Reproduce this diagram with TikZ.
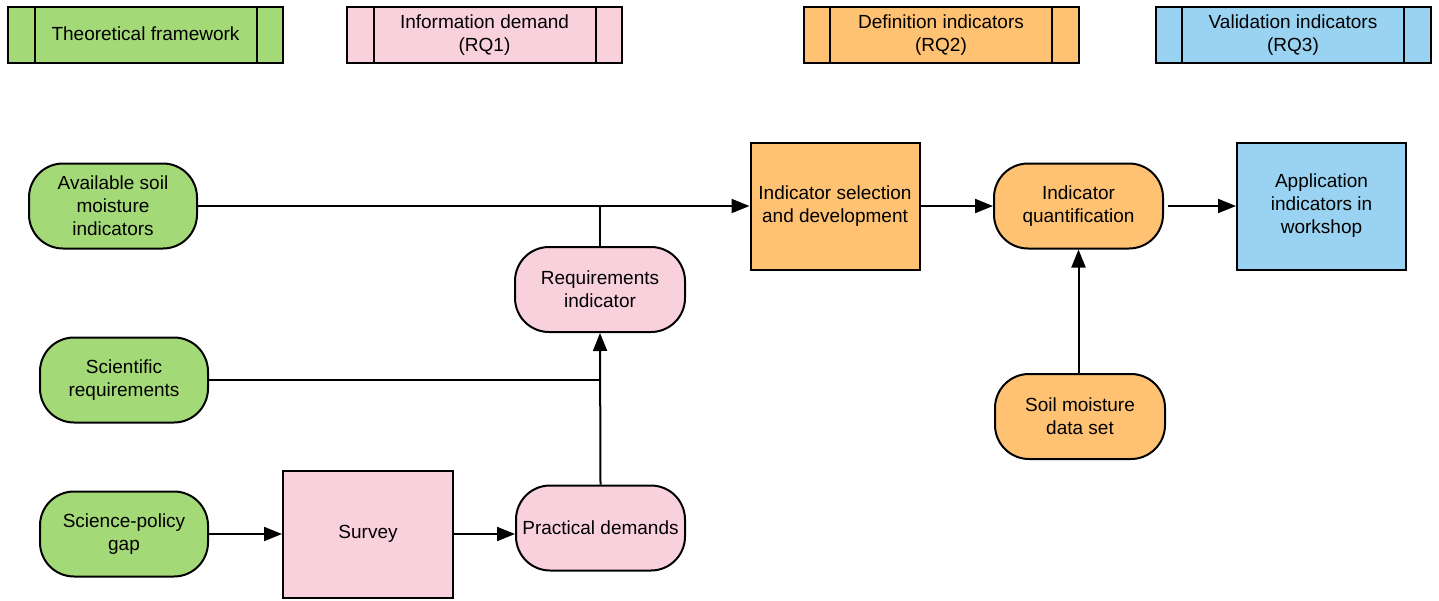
\documentclass[tikz,border=0pt]{standalone}
\usepackage{fontspec}
\setmainfont{Liberation Sans}
\usetikzlibrary{arrows.meta}
\definecolor{cgreen}{RGB}{164,217,119}
\definecolor{cpink}{RGB}{249,209,221}
\definecolor{corange}{RGB}{254,194,114}
\definecolor{cblue}{RGB}{154,211,242}
\begin{document}
\begin{tikzpicture}[x=0.5pt,y=-0.5pt,
  every node/.style={font=\fontsize{9.5}{11.5}\selectfont, align=center, inner sep=2pt},
  base/.style={draw=black, line width=1pt},
  header/.style={base, minimum width=137.5pt, minimum height=28pt},
  pill/.style={base, rounded corners=17pt, minimum width=84pt, minimum height=42.5pt},
  box/.style={base, minimum width=84.5pt, minimum height=63.5pt},
  conn/.style={line width=1pt},
  arr/.style={conn, -{Triangle[length=9pt,width=7pt]}}
]
\useasboundingbox (0,0) rectangle (1439,600);

% headers
\node[header, fill=cgreen] (h1) at (145.5,35) {\raisebox{1pt}{Theoretical framework}};
\node[header, fill=cpink] (h2) at (484.5,35) {Information demand\\(RQ1)};
\node[header, fill=corange] (h3) at (941,35) {Definition indicators\\(RQ2)};
\node[header, fill=cblue] (h4) at (1293,35) {Validation indicators\\(RQ3)};
\foreach \h in {h1,h2,h3,h4}{
  \draw[conn] ([xshift=13.75pt]\h.north west) -- ([xshift=13.75pt]\h.south west);
  \draw[conn] ([xshift=-13.75pt]\h.north east) -- ([xshift=-13.75pt]\h.south east);
}

% nodes
\node[pill, fill=cgreen] (avail) at (113,206) {Available soil\\moisture\\indicators};
\node[pill, fill=cgreen] (sci) at (124,380) {Scientific\\requirements};
\node[pill, fill=cgreen] (gap) at (124,534) {Science-policy\\gap};
\node[box, fill=cpink, minimum width=85pt] (survey) at (368,534) {Survey};
\node[pill, fill=cpink, minimum width=84.5pt] (prac) at (600.5,528) {Practical demands};
\node[pill, fill=cpink, minimum width=85pt] (req) at (600,289.5) {Requirements\\indicator};
\node[box, fill=corange] (sel) at (835,206) {Indicator selection\\and development};
\node[pill, fill=corange, minimum width=84.5pt] (quant) at (1078.5,206) {Indicator\\quantification};
\node[box, fill=cblue] (app) at (1321.5,206) {Application\\indicators in\\workshop};
\node[pill, fill=corange, minimum width=85pt] (data) at (1080,416.5) {Soil moisture\\data set};

% junctions
\coordinate (j1) at (req.north |- avail.east);
\coordinate (j2) at (req.north |- sci.east);

% connectors
\draw[arr] (avail.east) -- (sel.west);
\draw[conn] (req.north) -- (j1);
\draw[conn] (sci.east) -- (j2);
\draw[arr] (prac.north) -- (req.south);
\draw[arr] (gap.east) -- (survey.west);
\draw[arr] (survey.east) -- (survey.east -| prac.west);
\draw[arr] (sel.east) -- (quant.west);
\draw[arr, shorten <=2pt] (quant.east) -- (app.west);
\draw[arr] (data.north -| quant.south) -- (quant.south);
\end{tikzpicture}
\end{document}
